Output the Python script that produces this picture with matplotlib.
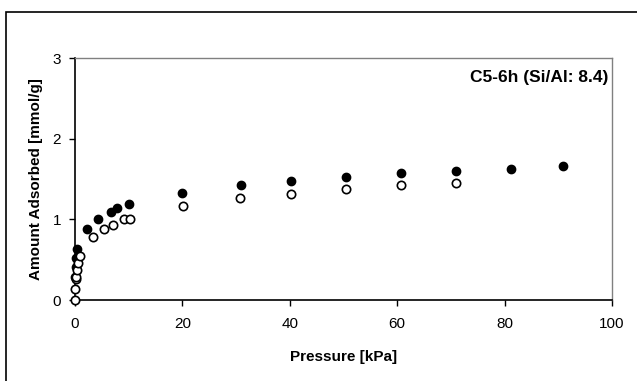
import matplotlib
matplotlib.use("Agg")
import matplotlib.pyplot as plt
from matplotlib.patches import Rectangle

plt.rcParams['font.family'] = ['Liberation Sans', 'DejaVu Sans']

# adsorption (filled) and desorption (open) branches
p_ads = [0.05, 0.1, 0.2, 0.4, 2.2, 4.2, 6.7, 7.9, 10.1, 19.9, 30.9, 40.3, 50.5, 60.7, 70.9, 81.1, 90.8]
q_ads = [0.28, 0.41, 0.52, 0.63, 0.88, 1.01, 1.09, 1.14, 1.19, 1.33, 1.42, 1.47, 1.52, 1.57, 1.60, 1.63, 1.66]
p_des = [0.05, 0.05, 0.1, 0.2, 0.3, 0.5, 1.0, 3.4, 5.4, 7.0, 9.1, 10.2, 20.1, 30.7, 40.3, 50.5, 60.7, 70.9]
q_des = [0.0, 0.14, 0.26, 0.29, 0.37, 0.46, 0.55, 0.78, 0.88, 0.93, 1.0, 1.01, 1.16, 1.26, 1.32, 1.37, 1.42, 1.45]

fig = plt.figure(figsize=(6.37, 3.81), dpi=100)
ax = fig.add_axes([75/637, 1-300/381, (612-75)/637, (300-58)/381])

# outer frame of the chart area
fig.patches.append(Rectangle((6/637, -0.1), 1.0, 1-12/381+0.1, transform=fig.transFigure,
                             fill=False, edgecolor='black', lw=1.2))

ax.plot(p_ads, q_ads, 'o', color='black', ms=6, clip_on=False, zorder=3)
ax.plot(p_des, q_des, 'o', mfc='white', mec='black', mew=1.2, ms=6, clip_on=False, zorder=4)

ax.set_xlim(0, 100)
ax.set_ylim(0, 3)
ax.set_xticks([0, 20, 40, 60, 80, 100])
ax.set_yticks([0, 1, 2, 3])
ax.tick_params(direction='out', length=4, width=1, labelsize=11)
ax.tick_params(axis='x', pad=8)
ax.tick_params(axis='y', pad=6)
for s in ['top', 'right']:
    ax.spines[s].set_color('#808080')
    ax.spines[s].set_linewidth(1)
for s in ['left', 'bottom']:
    ax.spines[s].set_linewidth(1.2)

ax.set_xlabel("Pressure [kPa]", fontsize=11, fontweight='bold', labelpad=14)
ax.set_ylabel("Amount Adsorbed [mmol/g]", fontsize=11, fontweight='bold', labelpad=7)
ax.text(0.993, 0.92, "C5-6h (Si/Al: 8.4)", transform=ax.transAxes, ha='right', va='center',
        fontsize=12.5, fontweight='bold')

fig.savefig("out.png", dpi=100)
